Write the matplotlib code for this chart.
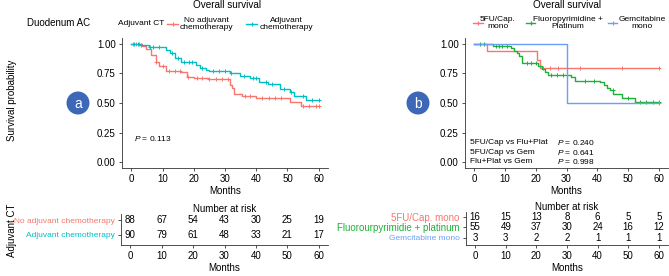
import numpy as np
import matplotlib
matplotlib.use("Agg")
import matplotlib.pyplot as plt
from matplotlib.lines import Line2D
from matplotlib.patches import Ellipse

plt.rcParams['font.family'] = ['Liberation Sans', 'DejaVu Sans']
plt.rcParams['mathtext.fontset'] = 'custom'
plt.rcParams['mathtext.it'] = 'Liberation Sans:italic'
plt.rcParams['mathtext.rm'] = 'Liberation Sans'

W, H = 669, 276

# panel a: adjuvant CT (months, survival)
a_no_t = [0, 3.3, 4.7, 6.2, 7.8, 8.9, 11, 16, 17.7, 20, 24.5, 31.5, 32.3, 33, 35.6, 40, 50.7, 54.4]
a_no_s = [1.0, 0.98, 0.955, 0.905, 0.85, 0.81, 0.775, 0.76, 0.72, 0.71, 0.70, 0.65, 0.63, 0.58, 0.56, 0.54, 0.51, 0.475]
a_no_cens = [0.5, 1.5, 2.5, 8, 10, 12, 14, 15.5, 18, 21, 22.5, 25, 27, 29, 31, 36.5, 38, 42, 44, 46, 48, 55, 57, 59, 60]

a_adj_t = [0, 2.8, 5.7, 11, 12.5, 14, 16, 20.8, 22, 24, 25, 31.5, 34.7, 38, 41, 43.7, 47.5, 50.7, 52, 56]
a_adj_s = [1.0, 0.99, 0.97, 0.95, 0.92, 0.88, 0.85, 0.82, 0.80, 0.78, 0.77, 0.75, 0.73, 0.71, 0.68, 0.66, 0.62, 0.595, 0.56, 0.525]
a_adj_cens = [1, 2, 3, 6, 7, 9, 13, 15, 17, 18.5, 19.5, 22.5, 26, 28, 30, 32, 36, 39, 40, 43, 45, 49, 51, 55, 58, 60]

# panel b: regimens
b_5fu_t = [0, 4.1, 20.3, 21.4]
b_5fu_s = [1.0, 0.9375, 0.865, 0.795]
b_5fu_cens = [22.4, 24.7, 27.3, 30.2, 34.4, 48, 60]

b_plat_t = [0, 6.2, 12.1, 13, 13.8, 14.6, 15.6, 20.8, 22, 23, 24, 31.5, 32.8, 41, 42.3, 43.2, 44.2, 45.2, 48, 52.3]
b_plat_s = [1.0, 0.98, 0.965, 0.94, 0.92, 0.90, 0.835, 0.81, 0.79, 0.76, 0.74, 0.72, 0.69, 0.675, 0.655, 0.63, 0.61, 0.58, 0.545, 0.505]
b_plat_cens = [2, 3.2, 7, 8, 9, 10.5, 17, 18.5, 20, 25, 27, 29, 36, 39, 45, 50, 54, 56, 58, 60]

b_gem_t = [0, 30.3]
b_gem_s = [1.0, 0.5]
b_gem_cens = [60]

risk_times = [0, 10, 20, 30, 40, 50, 60]
a_risk_labels = ['No adjuvant chemotherapy', 'Adjuvant chemotherapy']
a_risk = [[88, 67, 54, 43, 30, 25, 19],
          [90, 79, 61, 48, 33, 21, 17]]
b_risk_labels = ['5FU/Cap. mono', 'Fluorourpyrimidie + platinum', 'Gemcitabine mono']
b_risk = [[16, 15, 13, 8, 6, 5, 5],
          [55, 49, 37, 30, 24, 16, 12],
          [3, 3, 2, 2, 1, 1, 1]]

RED, TEAL = '#F8766D', '#00BFC4'
GREEN, BLUE = '#1DB236', '#6C9EF8'
DARK = '#333333'

fig = plt.figure(figsize=(W / 100, H / 100), dpi=100)


def px_axes(x0, y0, x1, y1):
    return fig.add_axes([x0 / W, 1 - y1 / H, (x1 - x0) / W, (y1 - y0) / H])


def ftext(x, y, s, **kw):
    fig.text(x / W, 1 - y / H, s, **kw)


def fline(x0, x1, y, color):
    fig.add_artist(Line2D([x0 / W, x1 / W], [1 - y / H, 1 - y / H], color=color, lw=1.0,
                          transform=fig.transFigure))
    fig.add_artist(Line2D([(x0 + x1) / 2 / W], [1 - y / H], color=color, marker='+', ms=3,
                          mew=0.8, transform=fig.transFigure))


def km(ax, t, s, cens, color):
    t = list(t) + [60]
    s = list(s) + [s[-1]]
    ax.step(t, s, where='post', color=color, lw=1.0)
    idx = np.searchsorted(t, cens, side='right') - 1
    ax.plot(cens, np.array(s)[idx], ls='none', marker='+', ms=3, mew=0.7, color=color)


def style(ax):
    for sp in ['top', 'right']:
        ax.spines[sp].set_visible(False)
    for sp in ['left', 'bottom']:
        ax.spines[sp].set_linewidth(0.6)
        ax.spines[sp].set_color(DARK)
    ax.set_xlim(-3, 63)
    ax.set_xticks(risk_times)
    ax.tick_params(labelsize=7, length=2.5, width=0.6, color=DARK, pad=2)
    ax.set_xlabel('Months', fontsize=7, labelpad=1)


def risk_table(ax, labels, rows, colors, sizes):
    style(ax)
    n = len(rows)
    for i, row in enumerate(rows):
        y = n - i
        for t, v in zip(risk_times, row):
            ax.text(t, y, str(v), ha='center', va='center', fontsize=7)
    ax.set_ylim(0.3, n + 0.45)
    ax.set_yticks(range(n, 0, -1))
    ax.set_yticklabels(labels)
    for lab, col, fs in zip(ax.get_yticklabels(), colors, sizes):
        lab.set_color(col)
        lab.set_fontsize(fs)
    ax.set_title('Number at risk', fontsize=7, pad=1)


# ---- panel a ----
ax = px_axes(122, 38, 328, 168)
km(ax, a_no_t, a_no_s, a_no_cens, RED)
km(ax, a_adj_t, a_adj_s, a_adj_cens, TEAL)
style(ax)
ax.set_ylim(-0.05, 1.05)
ax.set_yticks([0, 0.25, 0.5, 0.75, 1.0])
ax.set_yticklabels(['0.00', '0.25', '0.50', '0.75', '1.00'])
ax.text(1, 0.2, r'$P$ = 0.113', fontsize=6, va='center')

ra = px_axes(121, 214, 328, 245)
risk_table(ra, a_risk_labels, a_risk, [RED, TEAL], [6, 6])

ftext(227, 5, 'Overall survival', ha='center', va='center', fontsize=7.2)
ftext(27, 23, 'Duodenum AC', ha='left', va='center', fontsize=7)
ftext(118, 24, 'Adjuvant CT', ha='left', va='center', fontsize=6)
fline(167, 178, 24, RED)
ftext(206, 24, 'No adjuvant\nchemotherapy', ha='center', va='center', fontsize=6, linespacing=1.0)
fline(246, 257, 24, TEAL)
ftext(286, 24, 'Adjuvant\nchemotherapy', ha='center', va='center', fontsize=6, linespacing=1.0)
ftext(12, 100, 'Survival probability', rotation=90, ha='center', va='center', fontsize=7)
ftext(12, 230, 'Adjuvant CT', rotation=90, ha='center', va='center', fontsize=7)

# ---- panel b ----
bx = px_axes(465, 38, 668, 168)
km(bx, b_5fu_t, b_5fu_s, b_5fu_cens, RED)
km(bx, b_plat_t, b_plat_s, b_plat_cens, GREEN)
km(bx, b_gem_t, b_gem_s, b_gem_cens, BLUE)
style(bx)
bx.set_ylim(-0.05, 1.05)
bx.set_yticks([0, 0.25, 0.5, 0.75, 1.0])
bx.set_yticklabels(['0.00', '0.25', '0.50', '0.75', '1.00'])
for i, (cmp, p) in enumerate([('5FU/Cap vs Flu+Plat', '0.240'),
                               ('5FU/Cap vs Gem', '0.641'),
                               ('Flu+Plat vs Gem', '0.998')]):
    yv = 0.165 - i * 0.08
    bx.text(-1.5, yv, cmp, fontsize=6, va='center')
    bx.text(27, yv, r'$P$ = ' + p, fontsize=6, va='center')

rb = px_axes(466, 212, 668, 245)
risk_table(rb, b_risk_labels, b_risk, [RED, GREEN, BLUE], [7, 7, 6])

ftext(567, 5, 'Overall survival', ha='center', va='center', fontsize=7.2)
fline(473, 483, 23, RED)
ftext(498, 23, '5FU/Cap.\nmono', ha='center', va='center', fontsize=6, linespacing=1.0)
fline(526, 535, 23, GREEN)
ftext(568, 23, 'Fluoropyrimidine +\nPlatinum', ha='center', va='center', fontsize=6, linespacing=1.0)
fline(608, 617, 23, BLUE)
ftext(642, 23, 'Gemcitabine\nmono', ha='center', va='center', fontsize=6, linespacing=1.0)

# panel badges
for cx, letter in [(78, 'a'), (418, 'b')]:
    fig.add_artist(Ellipse((cx / W, 1 - 103 / H), 23 / W, 23 / H, transform=fig.transFigure,
                           color='#3D68B8', ec='none'))
    ftext(cx, 103.5, letter, ha='center', va='center', fontsize=10, color='white')

fig.savefig('out.png', dpi=100)
